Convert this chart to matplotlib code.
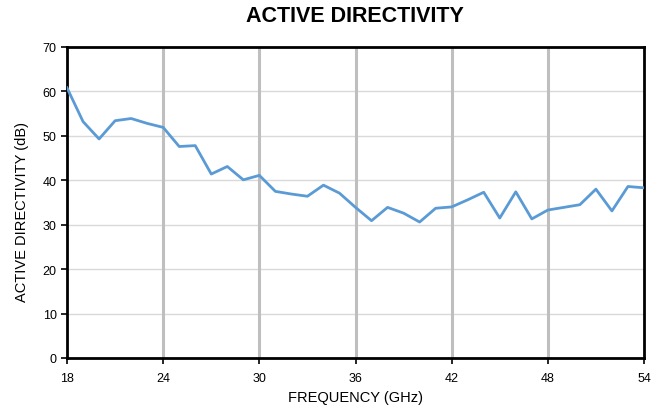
import matplotlib
matplotlib.use("Agg")
import matplotlib.pyplot as plt

plt.rcParams['font.family'] = ['Liberation Sans', 'DejaVu Sans']

freq_ghz = list(range(18, 55))
directivity_db = [60.8, 53.2, 49.3, 53.4, 53.9, 52.8, 51.9, 47.6, 47.8, 41.4,
                  43.1, 40.1, 41.1, 37.5, 36.9, 36.4, 38.9, 37.1, 33.9, 30.9,
                  33.9, 32.6, 30.6, 33.7, 34.0, 35.6, 37.3, 31.5, 37.4, 31.3,
                  33.3, 33.9, 34.5, 38.0, 33.1, 38.6, 38.3]
x_ticks = [18, 24, 30, 36, 42, 48, 54]
y_ticks = [0, 10, 20, 30, 40, 50, 60, 70]

fig = plt.figure(figsize=(6.65, 4.10), dpi=100)
ax = fig.add_axes([0.1008, 0.1244, 0.8676, 0.7586])

for yv in y_ticks[1:-1]:
    ax.axhline(yv, color='#D9D9D9', lw=1.0, zorder=1)
for xv in x_ticks[1:-1]:
    ax.axvline(xv, color='#BFBFBF', lw=2.2, zorder=1)

ax.plot(freq_ghz, directivity_db, color='#5B9BD5', lw=2.0, zorder=3)

ax.set_xlim(18, 54)
ax.set_ylim(0, 70)
ax.set_xticks(x_ticks)
ax.set_yticks(y_ticks)
ax.tick_params(axis='both', labelsize=9, direction='out', length=4, width=1.2, colors='black')
ax.tick_params(axis='x', pad=6)
for s in ax.spines.values():
    s.set_color('black')
    s.set_linewidth(2.0)

cx = 355 / 665
fig.text(cx, 1 - 398 / 410, 'FREQUENCY (GHz)', ha='center', va='center', fontsize=10.5)
fig.text(22 / 665, 1 - 212 / 410, 'ACTIVE DIRECTIVITY (dB)', ha='center', va='center',
         rotation=90, fontsize=10.5)
fig.text(cx, 1 - 16 / 410, 'ACTIVE DIRECTIVITY', ha='center', va='center',
         fontsize=15.5, fontweight='bold')

fig.savefig('out.png', dpi=100)
